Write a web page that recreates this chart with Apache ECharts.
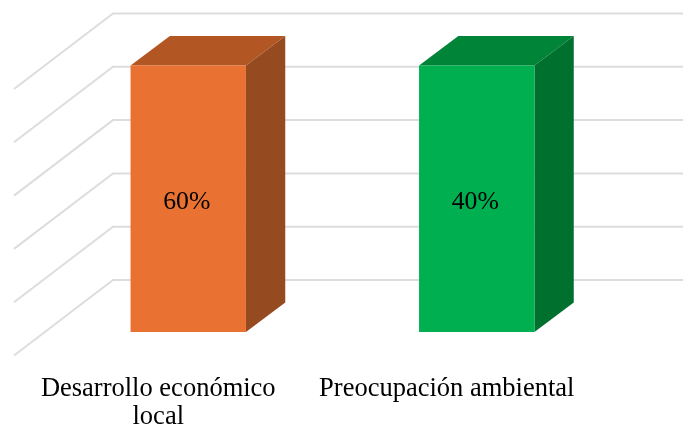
<!DOCTYPE html>
<html>
<head>
<meta charset="utf-8">
<style>html,body{margin:0;padding:0;background:#fff}#c{width:683px;height:426px}</style>
<script src="https://cdn.jsdelivr.net/npm/echarts@6/dist/echarts.min.js"></script>
</head>
<body>
<div id="c"></div>
<script>
// Data: both columns are drawn the same height, but labelled differently.
var categories = ['Desarrollo económico local', 'Preocupación ambiental'];
var plottedHeights = [100, 100];
var dataLabels = ['60%', '40%'];
var axisTicks = [0, 20, 40, 60, 80, 100];

var frontColors = ['#E97132', '#00B050'];
var topColors = ['#B25724', '#008437'];
var sideColors = ['#954A20', '#00702F'];

var chart = echarts.init(document.getElementById('c'), null, {renderer: 'canvas'});

function renderWall(params, api) {
  var y = api.coord([0, api.value(1)])[1];
  var g = params.coordSys;
  return {
    type: 'polyline',
    silent: true,
    shape: {points: [
      [g.x - 30, y + 23.5],
      [g.x + 69, y - 52],
      [g.x + g.width + 69, y - 52]
    ]},
    style: {fill: null, stroke: '#DDDDDD', lineWidth: 2}
  };
}

function renderBar(params, api) {
  var i = api.value(0);
  var top = api.coord([i, api.value(1)]);
  var base = api.coord([i, 0]);
  var w = api.size([1, 0])[0] * 0.4;
  var l = top[0] - w / 2, r = top[0] + w / 2;
  var dx = 39.3, dy = 29.5;
  return {
    type: 'group',
    children: [
      {type: 'polygon', shape: {points: [[l, top[1]], [l + dx, top[1] - dy], [r + dx, top[1] - dy], [r, top[1]]]},
        style: {fill: topColors[i]}},
      {type: 'polygon', shape: {points: [[r, top[1]], [r + dx, top[1] - dy], [r + dx, base[1] - dy], [r, base[1]]]},
        style: {fill: sideColors[i]}},
      {type: 'rect', shape: {x: l, y: top[1], width: w, height: base[1] - top[1]},
        style: {fill: frontColors[i]}},
      {type: 'text',
        style: {x: top[0] - 1.5, y: (top[1] + base[1]) / 2 + 4, text: dataLabels[i], fill: '#000',
          font: '25.7px "Liberation Serif"', align: 'center', verticalAlign: 'middle'}}
    ]
  };
}

chart.setOption({
  animation: false,
  backgroundColor: '#fff',
  grid: [
    {left: 44, top: 65.5, width: 577, height: 266.5, outerBoundsMode: 'none'},
    {left: 14, top: 89, width: 577, height: 266.5, outerBoundsMode: 'none'}
  ],
  xAxis: [
    {type: 'category', gridIndex: 0, data: categories, show: false},
    {type: 'category', gridIndex: 1, data: categories,
      axisLine: {show: false}, axisTick: {show: false},
      axisLabel: {margin: 20, lineHeight: 28,
        formatter: function (v) { return v.replace('económico ', 'económico\n'); },
        fontFamily: 'Liberation Serif', fontSize: 26.5, color: '#000', interval: 0}}
  ],
  yAxis: [
    {type: 'value', gridIndex: 0, min: 0, max: 100, interval: 20, show: false},
    {type: 'value', gridIndex: 1, min: 0, max: 100, interval: 20, show: false}
  ],
  series: [
    {type: 'custom', xAxisIndex: 0, yAxisIndex: 0, z: 1, clip: false, silent: true,
      renderItem: renderWall, data: axisTicks.map(function (t) { return [0, t]; })},
    {type: 'custom', xAxisIndex: 0, yAxisIndex: 0, z: 2, clip: false, silent: true,
      renderItem: renderBar, data: plottedHeights.map(function (v, i) { return [i, v]; })}
  ]
});
</script>
</body>
</html>
